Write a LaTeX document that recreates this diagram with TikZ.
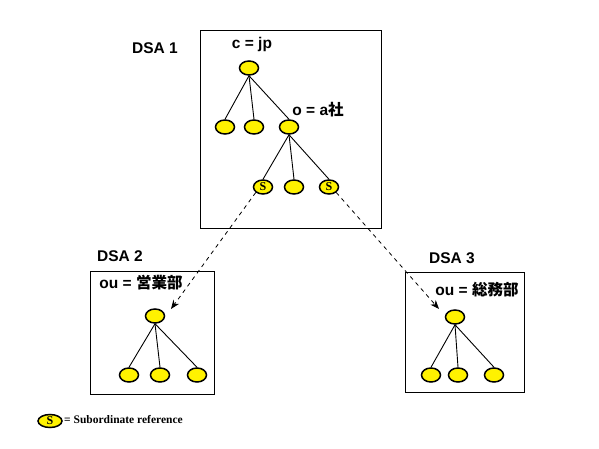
\documentclass[tikz,border=0pt]{standalone}
\usepackage{fontspec}
\setmainfont{Liberation Sans}
\newfontfamily\cjk{Noto Sans CJK JP}
\newfontfamily\serifx{Liberation Serif}
\usetikzlibrary{arrows.meta,shapes.geometric}
\begin{document}
\begin{tikzpicture}[x=1pt,y=-1pt,
  ent/.style={ellipse,draw=black,line width=1.5pt,fill=yellow,minimum width=19pt,minimum height=14pt,inner sep=0pt},
  sref/.style={ent,font=\serifx\bfseries\fontsize{12}{12}\selectfont},
  dsabox/.style={draw=black,line width=0.8pt},
  lbl/.style={font=\bfseries\fontsize{15.5}{15.5}\selectfont,inner sep=0pt},
  edge/.style={draw=black,line width=0.9pt},
  ref/.style={draw=black,line width=0.8pt,dash pattern=on 4pt off 4pt,-{Stealth[length=9pt,width=7pt]}}]
\useasboundingbox (0,0) rectangle (599,449);
% boxes
\draw[dsabox] (200,30) rectangle (381,228);
\draw[dsabox] (90,271) rectangle (214,394);
\draw[dsabox] (405,272) rectangle (524,392);
% labels
\node[lbl] (l1) at (155,48) {DSA 1};
\node[lbl] (l2) at (120,256) {DSA 2};
\node[lbl] (l3) at (452,258) {DSA 3};
\node[lbl] (c) at (252,44) {c = jp};
\node[lbl] (o) at (318,110) {o = a{\cjk 社}};
\node[lbl] (ou2) at (141,283) {ou = {\cjk 営業部}};
\node[lbl] (ou3) at (477,290) {ou = {\cjk 総務部}};
% DSA1 tree
\node[ent] (r) at (249,68) {};
\node[ent] (a1) at (225,127) {};
\node[ent] (a2) at (254,127) {};
\node[ent] (a3) at (289,127) {};
\node[sref] (b1) at (263,187) {S};
\node[ent] (b2) at (294,187) {};
\node[sref] (b3) at (329,187) {S};
\foreach \n in {a1,a2,a3} \draw[edge] (r.south) -- (\n.north);
\foreach \n in {b1,b2,b3} \draw[edge] (a3.south) -- (\n.north);
% DSA2 tree
\node[ent] (r2) at (155,316) {};
\node[ent] (c1) at (129,375) {};
\node[ent] (c2) at (160,375) {};
\node[ent] (c3) at (197,375) {};
\foreach \n in {c1,c2,c3} \draw[edge] (r2.south) -- (\n.north);
% DSA3 tree
\node[ent] (r3) at (455,317) {};
\node[ent] (d1) at (431,375) {};
\node[ent] (d2) at (458,375) {};
\node[ent] (d3) at (494,375) {};
\foreach \n in {d1,d2,d3} \draw[edge] (r3.south) -- (\n.north);
% references
\coordinate (t2) at (171,309);
\coordinate (t3) at (439,309);
\draw[ref] (b1.south west) -- (t2);
\draw[ref] (b3.south east) -- (t3);
% legend
\node[sref,minimum width=24pt,minimum height=13pt] (leg) at (50,421) {S};
\node[anchor=west,inner sep=0pt,font=\serifx\bfseries\fontsize{11.5}{11.5}\selectfont] (legt) at (64,420) {= Subordinate reference};
\end{tikzpicture}
\end{document}
